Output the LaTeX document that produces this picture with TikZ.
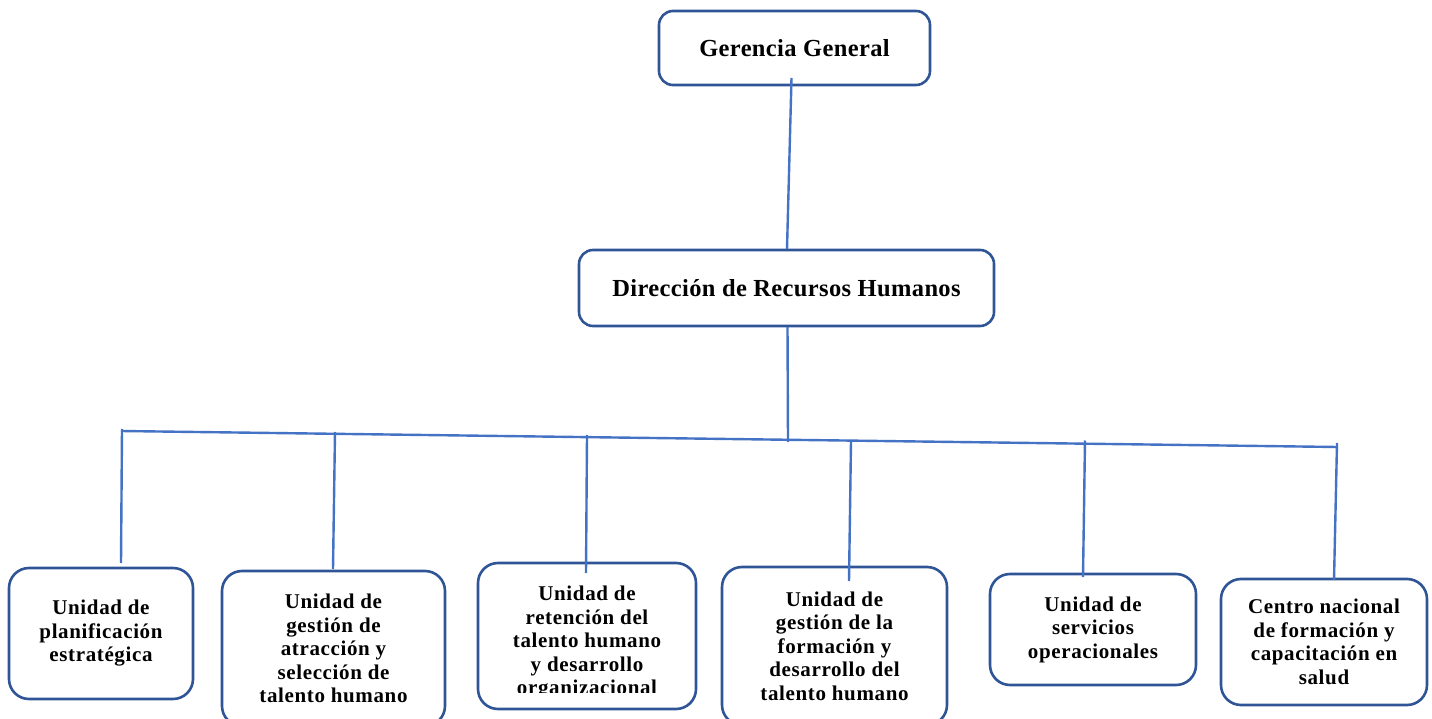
\documentclass[tikz,border=0pt]{standalone}
\usepackage{fontspec}
\setmainfont{Liberation Serif}
\definecolor{boxblue}{HTML}{2F5597}
\definecolor{lineblue}{HTML}{4472C4}
\begin{document}
\begin{tikzpicture}[x=1pt,y=-1pt,
  unit/.style={draw=boxblue, line width=2.6pt, rounded corners=20pt, align=center,
    font=\bfseries\fontsize{21}{23.5}\selectfont\addfontfeatures{LetterSpace=3}, inner sep=0pt},
  head/.style={unit, rounded corners=14pt, font=\bfseries\fontsize{24.5}{28}\selectfont\addfontfeatures{LetterSpace=1.5}},
  txt/.style={align=center, font=\bfseries\fontsize{21}{23.5}\selectfont\addfontfeatures{LetterSpace=3}, inner sep=0pt},
  link/.style={draw=lineblue, line width=2.4pt}]
\useasboundingbox (0,0) rectangle (1432,719);

% top boxes
\node[head, minimum width=271pt, minimum height=74pt] (g) at (794.5,48) {Gerencia General};
\node[head, minimum width=415pt, minimum height=76pt] (d) at (786.5,288) {Dirección de Recursos Humanos};

% bottom boxes
\node[unit, minimum width=184pt, minimum height=131pt] (b1) at (101,633.5) {Unidad de\\planificación\\estratégica};
\node[unit, minimum width=223pt, minimum height=155pt] (b2) at (333.5,648.5) {Unidad de\\gestión de\\atracción y\\selección de\\talento humano};
\node[unit, minimum width=218pt, minimum height=146pt] (b3) at (587,636) {};
\begin{scope}
  \clip (477,562) rectangle (697,692);
  \node[txt] (t3) at (587,643) {Unidad de\\retención del\\talento humano\\y desarrollo\\organizacional};
\end{scope}
\node[unit, minimum width=225pt, minimum height=158pt] (b4) at (834.5,646) {Unidad de\\gestión de la\\formación y\\desarrollo del\\talento humano};
\node[unit, minimum width=206pt, minimum height=111pt] (b5) at (1093,629.5) {Unidad de\\servicios\\operacionales};
\node[unit, minimum width=206pt, minimum height=126pt] (b6) at (1324,642) {Centro nacional\\de formación y\\capacitación en\\salud};

% connector points
\coordinate (gs) at (791.5,78);
\coordinate (dn) at (787,249);
\coordinate (ds) at (787.5,327);
\coordinate (dj) at (788,442);
\coordinate (barL) at (121,431);
\coordinate (barR) at (1337,447);
\coordinate (p1) at (122,429);  \coordinate (q1) at (121,563);
\coordinate (p2) at (335,432);  \coordinate (q2) at (333,569);
\coordinate (p3) at (587,435);  \coordinate (q3) at (586,573);
\coordinate (p4) at (851,441);  \coordinate (q4) at (849,581);
\coordinate (p5) at (1085,440.5); \coordinate (q5) at (1083,577);
\coordinate (p6) at (1337,443); \coordinate (q6) at (1334,580);

% connectors
\draw[link] (gs) -- (dn);
\draw[link] (ds) -- (dj);
\draw[link] (barL) -- (barR);
\draw[link] (p1) -- (q1);
\draw[link] (p2) -- (q2);
\draw[link] (p3) -- (q3);
\draw[link] (p4) -- (q4);
\draw[link] (p5) -- (q5);
\draw[link] (p6) -- (q6);
\end{tikzpicture}
\end{document}
